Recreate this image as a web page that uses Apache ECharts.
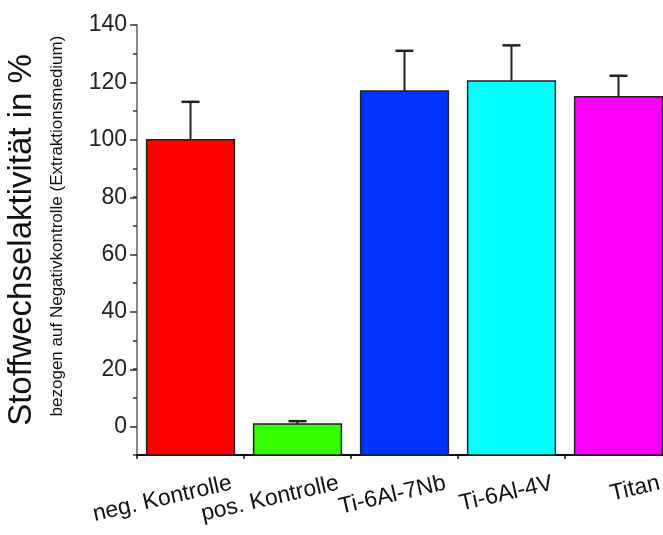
<!DOCTYPE html>
<html>
<head>
<meta charset="utf-8">
<script src="https://cdn.jsdelivr.net/npm/echarts@6/dist/echarts.min.js"></script>
<style>html,body{margin:0;padding:0;background:#fff}#c{width:663px;height:535px}</style>
</head>
<body>
<div id="c"></div>
<script>
const categories = ['neg. Kontrolle', 'pos. Kontrolle', 'Ti-6Al-7Nb', 'Ti-6Al-4V', 'Titan'];
const values = [100, 0.8, 117, 120.5, 115];
const errors = [13.2, 1.0, 14.0, 12.4, 7.3];
const colors = ['#ff0000', '#33ff00', '#0033ff', '#00ffff', '#ff00ff'];
const yTicks = [0, 20, 40, 60, 80, 100, 120, 140];
const yTitle = 'Stoffwechselaktivität in %';
const ySubtitle = 'bezogen auf Negativkontrolle (Extraktionsmedium)';

const Y_MIN = -10;
const chart = echarts.init(document.getElementById('c'));
const font = 'Liberation Sans, Arial, sans-serif';
const gridBase = {containLabel: false, outerBoundsMode: 'none'};
chart.setOption({
  animation: false,
  backgroundColor: '#fff',
  grid: [
    Object.assign({left: 137, top: 25, width: 535, height: 430}, gridBase),
    Object.assign({left: 137, top: 25, width: 535, height: 402}, gridBase),
    Object.assign({left: 178, top: 25, width: 535, height: 430}, gridBase)
  ],
  xAxis: [
    {type: 'category', gridIndex: 0, data: categories,
     axisLine: {onZero: false, lineStyle: {color: '#111', width: 2}},
     axisTick: {show: true, length: 4, lineStyle: {color: '#111', width: 1.5}},
     axisLabel: {show: false}},
    {type: 'category', gridIndex: 1, data: categories, show: false},
    {type: 'category', gridIndex: 2, data: categories,
     axisLine: {show: false}, axisTick: {show: false},
     axisLabel: {show: true, rotate: 13, margin: 28, interval: 0,
       fontFamily: font, fontSize: 23, color: '#111'}}
  ],
  yAxis: [
    {type: 'value', gridIndex: 0, min: Y_MIN, max: 140, interval: 10,
     axisLine: {show: true, lineStyle: {color: '#888', width: 2}},
     axisTick: {show: true, length: 4, lineStyle: {color: '#333', width: 1.5}},
     axisLabel: {show: false}, splitLine: {show: false},
     name: yTitle, nameLocation: 'middle', nameGap: 99, nameRotate: 90,
     nameTextStyle: {fontFamily: font, fontSize: 33, color: '#111'}},
    {type: 'value', gridIndex: 1, min: yTicks[0], max: yTicks[yTicks.length - 1], interval: yTicks[1] - yTicks[0],
     axisLine: {show: false},
     axisTick: {show: true, length: 7, lineStyle: {color: '#333', width: 1.5}},
     axisLabel: {show: true, fontFamily: font, fontSize: 23, color: '#222', margin: 10},
     splitLine: {show: false},
     name: ySubtitle, nameLocation: 'middle', nameGap: 71, nameRotate: 90,
     nameTextStyle: {fontFamily: font, fontSize: 17, color: '#111'}},
    {type: 'value', gridIndex: 2, min: Y_MIN, max: 140, show: false}
  ],
  series: [
    {type: 'custom', xAxisIndex: 0, yAxisIndex: 0, z: 3,
     data: values.map((v, i) => [i, v]),
     renderItem: function (params, api) {
       const top = api.coord([api.value(0), api.value(1)]);
       const base = api.coord([api.value(0), Y_MIN]);
       const w = api.size([1, 0])[0] * 0.82;
       return {type: 'rect',
         shape: {x: top[0] - w / 2, y: top[1], width: w, height: base[1] - top[1]},
         style: {fill: colors[params.dataIndex], stroke: '#222', lineWidth: 1.5}};
     }},
    {type: 'custom', xAxisIndex: 0, yAxisIndex: 0, z: 5,
     data: values.map((v, i) => [i, v, v + errors[i]]),
     renderItem: function (params, api) {
       const base = api.coord([api.value(0), api.value(1)]);
       const top = api.coord([api.value(0), api.value(2)]);
       const hw = 9;
       return {type: 'group', children: [
         {type: 'line', shape: {x1: base[0], y1: base[1], x2: top[0], y2: top[1]},
          style: {stroke: '#222', lineWidth: 2}},
         {type: 'line', shape: {x1: top[0] - hw, y1: top[1], x2: top[0] + hw, y2: top[1]},
          style: {stroke: '#222', lineWidth: 2.5}}
       ]};
     }}
  ]
});
</script>
</body>
</html>
